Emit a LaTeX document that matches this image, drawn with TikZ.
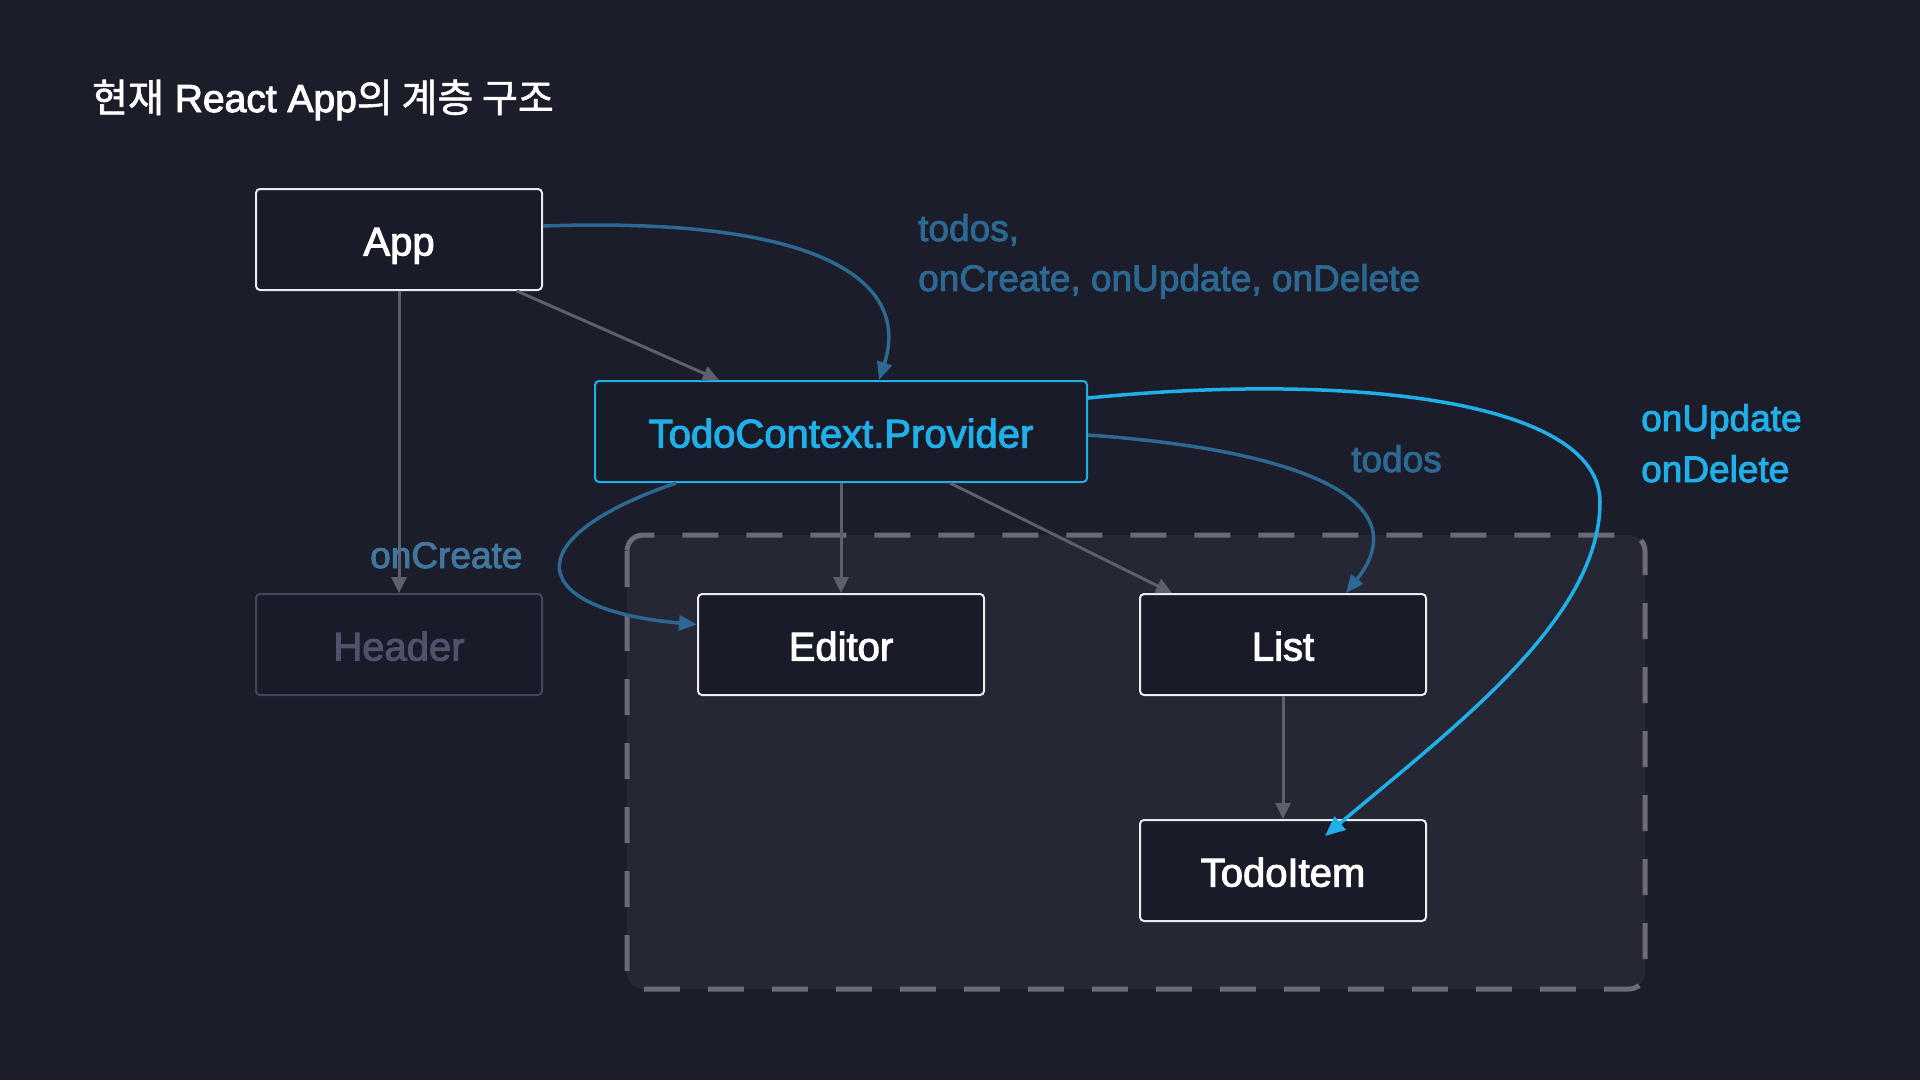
\documentclass[tikz,border=0pt]{standalone}
\usepackage{fontspec}
\setmainfont{Liberation Sans}[FakeBold=2.5]
\newfontfamily\krfont{Noto Sans CJK KR}[FakeBold=1.5]
\usetikzlibrary{arrows.meta,calc}
\definecolor{bgc}{HTML}{1B1D2B}
\definecolor{regionc}{HTML}{252735}
\definecolor{dashc}{HTML}{6A6A78}
\definecolor{boxc}{HTML}{1A1B28}
\definecolor{boxline}{HTML}{ECECF0}
\definecolor{cyanc}{HTML}{1FB0EA}
\definecolor{darkblue}{HTML}{2C6891}
\definecolor{greyline}{HTML}{5E5F6C}
\definecolor{ghostline}{HTML}{45465A}
\definecolor{ghosttext}{HTML}{50516A}
\tikzset{
  compbox/.style={draw=boxline, fill=boxc, line width=2pt, rounded corners=4pt,
    minimum width=286pt, minimum height=101pt, inner sep=0pt, text=white,
    text height=32pt, text depth=0pt,
    font=\fontsize{40}{48}\selectfont},
  provbox/.style={compbox, draw=cyanc, text=cyanc, minimum width=492pt},
  ghostbox/.style={compbox, draw=ghostline, text=ghosttext},
  greyarrow/.style={draw=greyline, line width=3pt, -{Triangle[length=16pt,width=15pt]}},
  bluearrow/.style={draw=darkblue, line width=3.5pt, -{Triangle[length=18pt,width=15pt]}},
  cyanarrow/.style={draw=cyanc, line width=3.5pt, -{Triangle[length=20pt,width=17pt]}},
  lbl/.style={anchor=base west, inner sep=0pt, font=\fontsize{37}{44}\selectfont},
}
\begin{document}
\begin{tikzpicture}[x=1pt,y=-1pt]
\useasboundingbox (0,0) rectangle (1920,1080);
\fill[bgc] (0,0) rectangle (1920,1080);

% title
\node[anchor=base west, inner sep=0pt, text=white, font=\fontsize{39}{46}\selectfont] (title) at (92,112)
  {{\krfont 현재} React App{\krfont 의 계층 구조}};

% dashed region
\fill[regionc, rounded corners=16pt] (627,535) rectangle (1645,989);
\draw[dashc, line width=5pt, rounded corners=16pt, dash pattern=on 36pt off 28pt] (627,535) rectangle (1645,989);

% boxes
\node[compbox] (app) at (399,239.5) {App};
\node[provbox] (prov) at (841,431.5) {TodoContext.Provider};
\node[ghostbox] (header) at (399,644.5) {Header};
\node[compbox] (editor) at (841,644.5) {Editor};
\node[compbox] (list) at (1283,644.5) {List};
\node[compbox] (todoitem) at (1283,870.5) {TodoItem};

% connectors
\draw[greyarrow] (app.south) -- (header.north);
\draw[greyarrow] ([xshift=-26pt]app.south east) -- ([xshift=125pt]prov.north west);
\draw[greyarrow] (prov.south) -- (editor.north);
\draw[greyarrow] ([xshift=-138pt]prov.south east) -- ([xshift=33pt]list.north west);
\draw[greyarrow] (list.south) -- (todoitem.north);

\draw[bluearrow] ([yshift=13.5pt]app.east) .. controls (830,216) and (910,285) .. ([xshift=285pt]prov.north west);
\draw[bluearrow] ([xshift=82pt]prov.south west) .. controls (510,540) and (530,610) .. ([yshift=20pt]editor.west);
\draw[bluearrow] ([yshift=-3.5pt]prov.east) .. controls (1300,450) and (1420,500) .. ([xshift=207pt]list.north west);
\draw[cyanarrow] ([yshift=33.5pt]prov.east) .. controls (1350,372) and (1600,400) .. (1600,502)
   .. controls (1600,620) and (1450,730) .. ([xshift=186pt,yshift=-17pt]todoitem.north west);

% labels
\node[lbl, text=darkblue] (l1) at (918,241) {todos,};
\node[lbl, text=darkblue] (l2) at (918,291) {onCreate, onUpdate, onDelete};
\node[lbl, text=darkblue] (l3) at (1351,472) {todos};
\node[lbl, text=cyanc] (l4) at (1641,431) {onUpdate};
\node[lbl, text=cyanc] (l5) at (1641,482) {onDelete};
\node[lbl, text=darkblue!90!white] (l6) at (370,568) {onCreate};
\end{tikzpicture}
\end{document}
